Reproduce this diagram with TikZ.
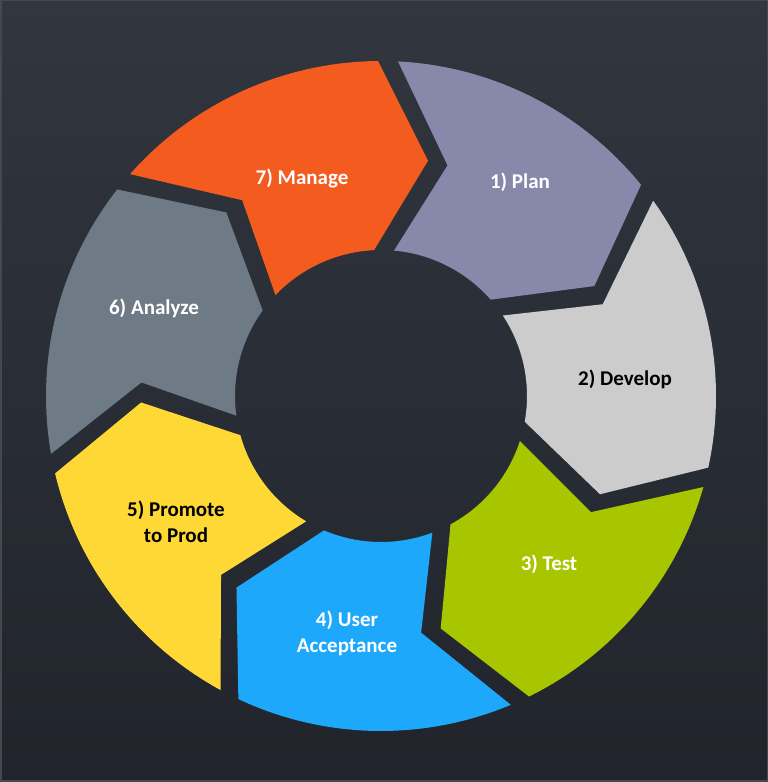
\documentclass[tikz,border=0pt]{standalone}
\usepackage{fontspec}
\setmainfont{Carlito}
\usepackage{tikz}
\definecolor{bgtop}{HTML}{31363F}
\definecolor{bgbottom}{HTML}{21242B}
\definecolor{bgedge}{HTML}{45494F}
\definecolor{planc}{HTML}{8888AA}
\definecolor{developc}{HTML}{CCCCCC}
\definecolor{testc}{HTML}{A8C600}
\definecolor{acceptc}{HTML}{1DA8FC}
\definecolor{promotec}{HTML}{FED834}
\definecolor{analyzec}{HTML}{6E7B86}
\definecolor{managec}{HTML}{F45B1F}

\begin{document}
\begin{tikzpicture}[x=1pt,y=1pt,
    steplabel/.style={font=\fontsize{21}{26}\selectfont\bfseries, text=white, align=center}]
  \useasboundingbox (0,0) rectangle (768,782);
  \shade[top color=bgtop, bottom color=bgbottom] (0,0) rectangle (768,782);
  \draw[bgedge, line width=1.5pt] (0.75,0.75) rectangle (767.25,781.25);
  \begin{scope}[shift={(381,386)}]
    \def\rout{335pt}\def\rin{146pt}\def\rmid{240pt}
    \def\gout{1.71}\def\gmid{2.39}\def\gin{3.92}\def\tipang{12.5}
    \foreach \k/\col in {1/planc,2/developc,3/testc,4/acceptc,5/promotec,6/analyzec,7/managec} {
      \pgfmathsetmacro\a{88.8-51.4286*(\k-1)}
      \pgfmathsetmacro\b{\a-51.4286}
      \fill[\col] ({\a-\gout}:\rout) arc[start angle={\a-\gout}, end angle={\b+\gout}, radius=\rout]
        -- ({\b-\tipang+\gmid}:\rmid) -- ({\b+\gin}:\rin)
        arc[start angle={\b+\gin}, end angle={\a-\gin}, radius=\rin]
        -- ({\a-\tipang-\gmid}:\rmid) -- cycle;
    }
  \end{scope}
  \node[steplabel, anchor=base] (plan) at (520,593) {1) Plan};
  \node[steplabel, anchor=base, text=black] (develop) at (625,396) {2) Develop};
  \node[steplabel, anchor=base] (test) at (549,211) {3) Test};
  \node[steplabel] (accept) at (347,149) {4) User\\Acceptance};
  \node[steplabel, text=black] (promote) at (176,260) {5) Promote\\to Prod};
  \node[steplabel, anchor=base] (analyze) at (154,467) {6) Analyze};
  \node[steplabel, anchor=base] (manage) at (302,597) {7) Manage};
\end{tikzpicture}
\end{document}
